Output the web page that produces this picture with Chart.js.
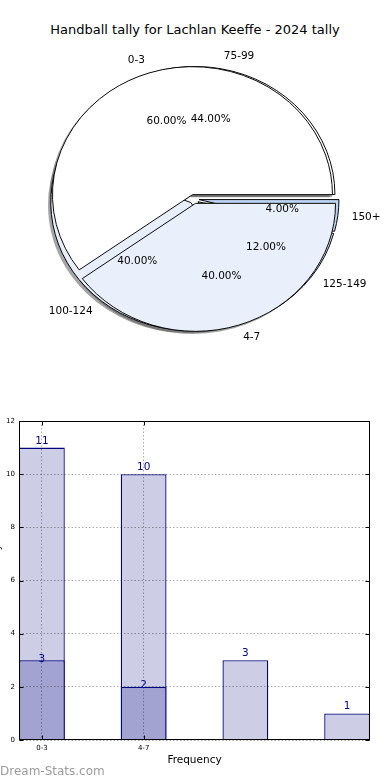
<!DOCTYPE html>
<html>
<head>
<meta charset="utf-8">
<title>Handball tally</title>
<script src="https://cdn.jsdelivr.net/npm/chart.js@4.4.1/dist/chart.umd.min.js"></script>
<style>
  html, body { margin: 0; padding: 0; background: #fff; }
  body { width: 390px; height: 780px; position: relative; overflow: hidden; font-family: "DejaVu Sans", sans-serif; }
  #title { position: absolute; left: 0; top: 22px; width: 390px; text-align: center; font-size: 13px; line-height: 16px; color: #000; }
  #pieBottom, #pieTop { position: absolute; left: 0; top: 34px; }
  #pieTop { z-index: 2; }
  #pieBottom { z-index: 1; }
  #barChart { position: absolute; left: -14px; top: 400px; }
  #brand { position: absolute; left: 0; top: 764px; font-size: 12px; line-height: 14px; color: #9c9c9c; z-index: 3; }
</style>
</head>
<body>
<div id="title">Handball tally for Lachlan Keeffe - 2024 tally</div>
<canvas id="pieBottom" width="390" height="330"></canvas>
<canvas id="pieTop" width="390" height="330"></canvas>
<canvas id="barChart" width="404" height="380"></canvas>
<div id="brand">Dream-Stats.com</div>

<script>
  // ---------------- data ----------------
  const freqLabels  = ["0-3", "4-7"];
  const freqCounts  = [3, 2];
  const tallyLabels = ["75-99", "100-124", "125-149", "150+"];
  const tallyCounts = [11, 10, 3, 1];
  const yTicks      = [0, 2, 4, 6, 8, 10, 12];

  // ---------------- styles ----------------
  const freqColors  = ["#ffffff", "#eaf0fb"];
  const tallyColors = ["#ffffff", "#e8eefb", "#d4e2f6", "#bcd3f1"];
  const FONT = "'DejaVu Sans', sans-serif";
  const PIE = { rx: 140, ry: 128, explode: 5 };
  const K = PIE.ry / PIE.rx;

  const charts = {};

  // squash the round pie into the ellipse seen in the picture
  function squash(ctx, arc) {
    ctx.translate(arc.x, arc.y);
    ctx.scale(1, K);
    ctx.translate(-arc.x, -arc.y);
  }

  // draw every wedge pushed out a little along its middle angle
  const explodePlugin = {
    id: "explode",
    beforeDatasetDraw(chart, args) {
      const ctx = chart.ctx;
      args.meta.data.forEach(arc => {
        const mid = (arc.startAngle + arc.endAngle) / 2;
        ctx.save();
        squash(ctx, arc);
        ctx.translate(Math.cos(mid) * PIE.explode, Math.sin(mid) * PIE.explode);
        arc.draw(ctx);
        ctx.restore();
      });
      return false;
    }
  };

  // grey shadows under both pies (drawn on the lower canvas)
  const shadowPlugin = {
    id: "shadow",
    beforeDatasetsDraw(chart) {
      const ctx = chart.ctx;
      [chart, charts.top].forEach(c => {
        if (!c) return;
        c.getDatasetMeta(0).data.forEach(arc => {
          const mid = (arc.startAngle + arc.endAngle) / 2;
          ctx.save();
          ctx.translate(-2.8, 2.6);
          squash(ctx, arc);
          ctx.translate(Math.cos(mid) * PIE.explode, Math.sin(mid) * PIE.explode);
          ctx.fillStyle = "rgba(75,75,78,0.5)";
          ctx.beginPath();
          ctx.moveTo(arc.x, arc.y);
          ctx.arc(arc.x, arc.y, arc.outerRadius, arc.startAngle, arc.endAngle);
          ctx.closePath();
          ctx.fill();
          ctx.restore();
        });
      });
    }
  };

  // names outside, percentages inside, for both pies (on the upper canvas)
  const pieLabelPlugin = {
    id: "pieLabels",
    afterDraw(chart) {
      const ctx = chart.ctx;
      ctx.save();
      ctx.font = "10.5px " + FONT;
      ctx.fillStyle = "#000";
      ctx.textBaseline = "middle";
      [charts.bottom, chart].forEach(c => {
        if (!c) return;
        const ds = c.data.datasets[0];
        const total = ds.data.reduce((s, v) => s + v, 0);
        c.getDatasetMeta(0).data.forEach((arc, i) => {
          const mid = (arc.startAngle + arc.endAngle) / 2;
          const cos = Math.cos(mid), sin = Math.sin(mid) * K;
          const r = arc.outerRadius;
          const pr = 0.6 * r + PIE.explode, lr = 1.1 * r + PIE.explode;
          ctx.textAlign = "center";
          ctx.fillText((ds.data[i] / total * 100).toFixed(2) + "%", arc.x + pr * cos, arc.y + pr * sin);
          ctx.textAlign = cos > 0 ? "left" : "right";
          ctx.fillText(c.data.labels[i], arc.x + lr * cos, arc.y + lr * sin);
        });
      });
      ctx.restore();
    }
  };

  // matplotlib goes counter-clockwise from 3 o'clock; Chart.js goes clockwise,
  // so feed the slices reversed and start at 90deg
  function pieConfig(labels, values, colors, plugins) {
    return {
      type: "pie",
      data: {
        labels: labels.slice().reverse(),
        datasets: [{
          data: values.slice().reverse(),
          backgroundColor: colors.slice().reverse(),
          borderColor: "#000",
          borderWidth: 1,
          radius: PIE.rx,
          clip: false
        }]
      },
      options: {
        responsive: false,
        animation: false,
        events: [],
        rotation: 90,
        layout: { padding: { left: 0, right: 2, top: 0, bottom: 0 } },
        plugins: { legend: { display: false }, tooltip: { enabled: false } }
      },
      plugins: plugins
    };
  }

  charts.top = new Chart(document.getElementById("pieTop"),
    pieConfig(freqLabels, freqCounts, freqColors, [explodePlugin, pieLabelPlugin]));
  charts.bottom = new Chart(document.getElementById("pieBottom"),
    pieConfig(tallyLabels, tallyCounts, tallyColors, [shadowPlugin, explodePlugin]));
  charts.top.draw();

  // ---------------- bar chart ----------------
  const VALUE_BLUE = "#00008b";
  const EDGE_BLUE = "#000080";

  const framePlugin = {
    id: "frame",
    afterDraw(chart) {
      const { ctx, chartArea: a, scales } = chart;
      ctx.save();
      // value labels
      ctx.font = "10.5px " + FONT;
      ctx.fillStyle = VALUE_BLUE;
      ctx.textAlign = "center";
      ctx.textBaseline = "alphabetic";
      chart.data.datasets.forEach((ds, di) => {
        chart.getDatasetMeta(di).data.forEach((bar, i) => {
          ctx.fillText(String(ds.data[i].y), bar.x, bar.y + ds.labelShift);
        });
      });
      // axes box + inward ticks
      ctx.strokeStyle = "#000";
      ctx.lineWidth = 1;
      const l = Math.round(a.left) + 0.5, t = Math.round(a.top) + 0.5;
      const r = Math.round(a.right) - 0.5, b = Math.round(a.bottom) - 0.5;
      ctx.strokeRect(l, t, r - l, b - t);
      ctx.beginPath();
      scales.y.ticks.forEach(tk => {
        const y = Math.round(scales.y.getPixelForValue(tk.value)) + 0.5;
        ctx.moveTo(l, y); ctx.lineTo(l + 4, y);
        ctx.moveTo(r, y); ctx.lineTo(r - 4, y);
      });
      scales.x.ticks.forEach(tk => {
        const x = Math.round(scales.x.getPixelForValue(tk.value)) + 0.5;
        ctx.moveTo(x, b); ctx.lineTo(x, b - 4);
        ctx.moveTo(x, t); ctx.lineTo(x, t + 4);
      });
      ctx.stroke();
      ctx.restore();
    }
  };

  new Chart(document.getElementById("barChart"), {
    type: "bar",
    data: {
      datasets: [
        {
          data: freqCounts.map((v, i) => ({ x: i, y: v })),
          backgroundColor: "#a3a3d1",
          borderColor: EDGE_BLUE,
          borderWidth: 1.3,
          grouped: false,
          labelShift: 1.5
        },
        {
          data: tallyCounts.map((v, i) => ({ x: i, y: v })),
          backgroundColor: "#cdcde6",
          borderColor: EDGE_BLUE,
          borderWidth: 1.3,
          grouped: false,
          labelShift: -4
        }
      ]
    },
    options: {
      responsive: false,
      animation: false,
      events: [],
      categoryPercentage: 1,
      barPercentage: 0.45,
      layout: { padding: { left: 0, right: 20, top: 21, bottom: 0 } },
      plugins: { legend: { display: false }, tooltip: { enabled: false } },
      scales: {
        x: {
          type: "linear",
          min: -0.225,
          max: 3.225,
          offset: false,
          afterBuildTicks: s => { s.ticks = freqLabels.map((_, i) => ({ value: i })); },
          afterFit: s => { s.height = 40; },
          ticks: {
            callback: v => freqLabels[v] ?? "",
            font: { family: FONT, size: 7 },
            color: "#000",
            padding: 4,
            maxRotation: 0,
            autoSkip: false
          },
          grid: { color: "rgba(0,0,0,0.33)", drawTicks: false, offset: false, z: 1 },
          border: { display: false, dash: [1.5, 2] },
          title: {
            display: true,
            text: "Frequency",
            font: { family: FONT, size: 10.5 },
            color: "#000",
            padding: { top: 0, bottom: 13 }
          }
        },
        y: {
          min: 0,
          max: 12,
          afterBuildTicks: s => { s.ticks = yTicks.map(v => ({ value: v })); },
          afterFit: s => { s.width = 33; },
          ticks: {
            font: { family: FONT, size: 7 },
            color: "#000",
            padding: 4
          },
          grid: { color: "rgba(0,0,0,0.33)", drawTicks: false, z: 1 },
          border: { display: false, dash: [1.5, 2] },
          title: {
            display: true,
            text: "Handball Tally",
            font: { family: FONT, size: 10.5 },
            color: "#000",
            padding: { top: 5, bottom: 0 }
          }
        }
      }
    },
    plugins: [framePlugin]
  });
</script>
</body>
</html>
